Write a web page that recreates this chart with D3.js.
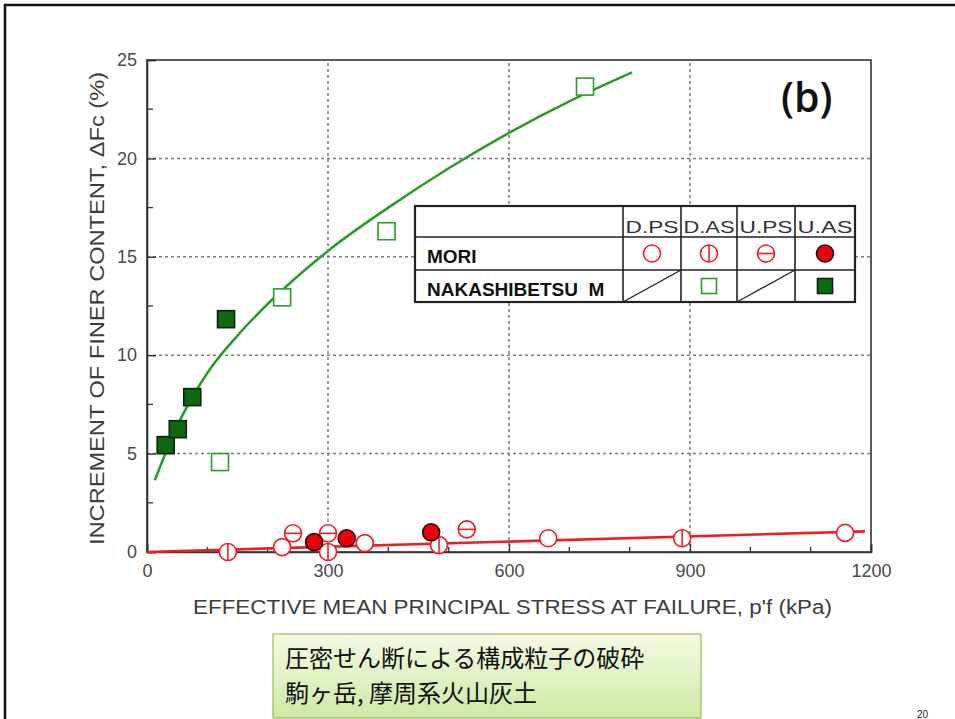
<!DOCTYPE html>
<html>
<head>
<meta charset="utf-8">
<script src="https://cdn.jsdelivr.net/npm/d3@7/dist/d3.min.js"></script>
<style>
  html, body { margin: 0; padding: 0; background: #fff; }
  svg { display: block; }
</style>
</head>
<body>
<svg id="chart" width="955" height="719"></svg>
<script>
// ---- Data: ΔFc (%) vs p'f (kPa) ----
// Mori volcanic soil, red circles
const moriDPS = [[224, 0.25], [361, 0.45], [665, 0.7], [1157, 0.97]];
const moriDAS = [[134, 0.0], [300, 0.0], [484, 0.35], [887, 0.7]];
const moriUPS = [[242, 0.95], [300, 0.95], [530, 1.15]];
const moriUAS = [[277, 0.5], [331, 0.7], [471, 1.0]];
// Nakashibetsu M, green squares
const nakaDAS = [[121, 4.57], [224, 12.94], [397, 16.3], [726, 23.65]];
const nakaUAS = [[31, 5.43], [51, 6.24], [75, 7.87], [131, 11.83]];
// Trend lines
const nakaTrend = [[13, 3.65], [50, 6.4], [100, 9.1], [150, 11.0], [200, 12.6], [300, 15.3],
                   [400, 17.5], [500, 19.5], [600, 21.3], [700, 22.9], [804, 24.37]];
const moriTrend = [[0, 0.0], [1190, 1.05]];
// Axes
const xTicks = [0, 300, 600, 900, 1200];
const xMinor = [100, 200, 400, 500, 700, 800, 1000, 1100];
const yTicks = [0, 5, 10, 15, 20, 25];
const yMinor = [2.5, 7.5, 12.5, 17.5, 22.5];
// Legend table
const legendCols = ["D.PS", "D.AS", "U.PS", "U.AS"];
const legendRows = ["MORI", "NAKASHIBETSU\u00a0\u00a0M"];
// Caption
const captionLines = ["圧密せん断による構成粒子の破砕", "駒ヶ岳, 摩周系火山灰土"];

const RED = "#ee1c24";
const GREEN = "#2d9a2d";
const DKGREEN = "#0b6a10";

const svg = d3.select("#chart");

// slide frame
svg.append("path")
  .attr("d", "M5,725 V5 H960")
  .attr("fill", "none").attr("stroke", "#111").attr("stroke-width", 2.6);

const x = d3.scaleLinear().domain([0, 1200]).range([147, 871]);
const y = d3.scaleLinear().domain([0, 25]).range([552, 60]);

// grid
const grid = svg.append("g")
  .attr("stroke", "#7a7a7a").attr("stroke-width", 1.5).attr("stroke-dasharray", "3,3");
grid.selectAll("line.gx").data([300, 600, 900]).join("line")
  .attr("x1", d => x(d)).attr("x2", d => x(d)).attr("y1", y(0)).attr("y2", y(25));
grid.selectAll("line.gy").data([5, 10, 15, 20]).join("line")
  .attr("x1", x(0)).attr("x2", x(1200)).attr("y1", d => y(d)).attr("y2", d => y(d));

// frame & axes
svg.append("rect")
  .attr("x", x(0)).attr("y", y(25)).attr("width", x(1200) - x(0)).attr("height", y(0) - y(25))
  .attr("fill", "none").attr("stroke", "#333").attr("stroke-width", 1.6);

const tickFont = "'Liberation Sans', Arial, sans-serif";

const xAxis = svg.append("g").attr("transform", `translate(0,${y(0)})`)
  .call(d3.axisBottom(x).tickValues(xTicks).tickSize(-8).tickPadding(16).tickFormat(d3.format("d")));
const yAxis = svg.append("g").attr("transform", `translate(${x(0)},0)`)
  .call(d3.axisLeft(y).tickValues(yTicks).tickSize(-9).tickPadding(10).tickFormat(d3.format("d")));
[xAxis, yAxis].forEach(g => {
  g.select(".domain").attr("stroke", "#333").attr("stroke-width", 1.6);
  g.selectAll(".tick line").attr("stroke", "#333").attr("stroke-width", 1.4);
  g.selectAll(".tick text").attr("fill", "#4a4a4a").attr("font-size", 18).attr("font-family", tickFont);
});
xAxis.selectAll(".tick text").attr("dy", "0.5em");
svg.append("g").selectAll("line").data(xMinor).join("line")
  .attr("x1", d => x(d)).attr("x2", d => x(d)).attr("y1", y(0)).attr("y2", y(0) - 5)
  .attr("stroke", "#333").attr("stroke-width", 1.3);
svg.append("g").selectAll("line").data(yMinor).join("line")
  .attr("x1", x(0)).attr("x2", x(0) + 6).attr("y1", d => y(d)).attr("y2", d => y(d))
  .attr("stroke", "#333").attr("stroke-width", 1.3);

// axis titles
svg.append("text")
  .attr("x", 193).attr("y", 614)
  .attr("textLength", 639).attr("lengthAdjust", "spacingAndGlyphs")
  .attr("font-family", tickFont).attr("font-size", 20).attr("fill", "#3d3d3d")
  .text("EFFECTIVE MEAN PRINCIPAL STRESS AT FAILURE, p'f (kPa)");
svg.append("text")
  .attr("transform", "translate(104,545) rotate(-90)")
  .attr("textLength", 473).attr("lengthAdjust", "spacingAndGlyphs")
  .attr("font-family", tickFont).attr("font-size", 20).attr("fill", "#3d3d3d")
  .text("INCREMENT OF FINER CONTENT, \u0394Fc (%)");

// panel label
svg.append("text")
  .attr("x", 781).attr("y", 112)
  .attr("font-family", "'Open Sans', 'Noto Sans', sans-serif").attr("font-weight", 600)
  .attr("font-size", 41).attr("fill", "#111")
  .text("(b)");

// trend lines
const line = d3.line().x(d => x(d[0])).y(d => y(d[1])).curve(d3.curveMonotoneX);
svg.append("path").datum(nakaTrend).attr("d", line)
  .attr("fill", "none").attr("stroke", GREEN).attr("stroke-width", 2.6);
svg.append("path").datum(moriTrend).attr("d", line)
  .attr("fill", "none").attr("stroke", RED).attr("stroke-width", 2.6);

// marker helpers
const R = 8.5, S = 17;
function circleMark(g, cx, cy, r, kind) {
  const filled = kind === "UAS";
  g.append("circle").attr("cx", cx).attr("cy", cy).attr("r", r)
    .attr("fill", filled ? "#e8000b" : "#fff")
    .attr("stroke", filled ? "#3a0000" : RED).attr("stroke-width", 1.6);
  if (kind === "DAS") g.append("line").attr("x1", cx).attr("x2", cx).attr("y1", cy - r).attr("y2", cy + r)
    .attr("stroke", RED).attr("stroke-width", 1.6);
  if (kind === "UPS") g.append("line").attr("x1", cx - r).attr("x2", cx + r).attr("y1", cy).attr("y2", cy)
    .attr("stroke", RED).attr("stroke-width", 1.6);
}
function squareMark(g, cx, cy, s, filled) {
  g.append("rect").attr("x", cx - s / 2).attr("y", cy - s / 2).attr("width", s).attr("height", s)
    .attr("fill", filled ? DKGREEN : "#fff")
    .attr("stroke", filled ? "#0a220a" : GREEN).attr("stroke-width", 1.6);
}

const marks = svg.append("g");
moriDPS.forEach(d => circleMark(marks, x(d[0]), y(d[1]), R, "DPS"));
moriDAS.forEach(d => circleMark(marks, x(d[0]), y(d[1]), R, "DAS"));
moriUPS.forEach(d => circleMark(marks, x(d[0]), y(d[1]), R, "UPS"));
moriUAS.forEach(d => circleMark(marks, x(d[0]), y(d[1]), R, "UAS"));
nakaDAS.forEach(d => squareMark(marks, x(d[0]), y(d[1]), S, false));
nakaUAS.forEach(d => squareMark(marks, x(d[0]), y(d[1]), S, true));

// legend table
const tb = { x0: 415, x1: 855, ys: [206, 237, 270, 302], cols: [623, 681, 737, 795] };
const leg = svg.append("g");
leg.append("rect").attr("x", tb.x0).attr("y", tb.ys[0]).attr("width", tb.x1 - tb.x0)
  .attr("height", tb.ys[3] - tb.ys[0]).attr("fill", "#fff").attr("stroke", "#222").attr("stroke-width", 2.2);
[tb.ys[1], tb.ys[2]].forEach(yy => leg.append("line")
  .attr("x1", tb.x0).attr("x2", tb.x1).attr("y1", yy).attr("y2", yy)
  .attr("stroke", "#222").attr("stroke-width", 1.6));
tb.cols.forEach(xx => leg.append("line")
  .attr("x1", xx).attr("x2", xx).attr("y1", tb.ys[0]).attr("y2", tb.ys[3])
  .attr("stroke", "#222").attr("stroke-width", 1.6));
const colEdges = tb.cols.concat([tb.x1]);
legendCols.forEach((c, i) => {
  const cx = (colEdges[i] + colEdges[i + 1]) / 2;
  leg.append("text").attr("x", cx).attr("y", 233).attr("text-anchor", "middle")
    .attr("textLength", colEdges[i + 1] - colEdges[i] - 5).attr("lengthAdjust", "spacingAndGlyphs")
    .attr("font-family", tickFont).attr("font-size", 17).attr("fill", "#333").text(c);
});
legendRows.forEach((r, i) => {
  leg.append("text").attr("x", 427).attr("y", i === 0 ? 263 : 296)
    .attr("font-family", tickFont).attr("font-weight", "bold").attr("font-size", 19).attr("fill", "#111").text(r);
});
const kinds = ["DPS", "DAS", "UPS", "UAS"];
kinds.forEach((k, i) => {
  const cx = (colEdges[i] + colEdges[i + 1]) / 2;
  circleMark(leg, cx, 253.5, 8.5, k);
});
// NAKASHIBETSU M row: no PS tests, slashed cells
[0, 2].forEach(i => leg.append("line")
  .attr("x1", colEdges[i]).attr("y1", tb.ys[3]).attr("x2", colEdges[i + 1]).attr("y2", tb.ys[2])
  .attr("stroke", "#222").attr("stroke-width", 1.3));
squareMark(leg, (colEdges[1] + colEdges[2]) / 2, 286, 15, false);
squareMark(leg, (colEdges[3] + colEdges[4]) / 2, 286, 15, true);

// caption box
const defs = svg.append("defs");
const grad = defs.append("linearGradient").attr("id", "capFill").attr("x1", 0).attr("y1", 0).attr("x2", 0).attr("y2", 1);
grad.append("stop").attr("offset", "0%").attr("stop-color", "#f4fbe3");
grad.append("stop").attr("offset", "100%").attr("stop-color", "#cde9a4");
svg.append("rect").attr("x", 273).attr("y", 634).attr("width", 428).attr("height", 84)
  .attr("fill", "url(#capFill)").attr("stroke", "#9bbb59").attr("stroke-width", 1.2);
const capFont = "'Noto Sans CJK JP', 'Noto Sans CJK SC', sans-serif";
captionLines.forEach((t, i) => svg.append("text")
  .attr("x", 285).attr("y", 667 + i * 35)
  .attr("font-family", capFont).attr("font-size", 24).attr("fill", "#111")
  .text(t));

// page number
svg.append("text").attr("x", 917).attr("y", 718)
  .attr("font-family", tickFont).attr("font-size", 10).attr("fill", "#222").text("20");
</script>
</body>
</html>
